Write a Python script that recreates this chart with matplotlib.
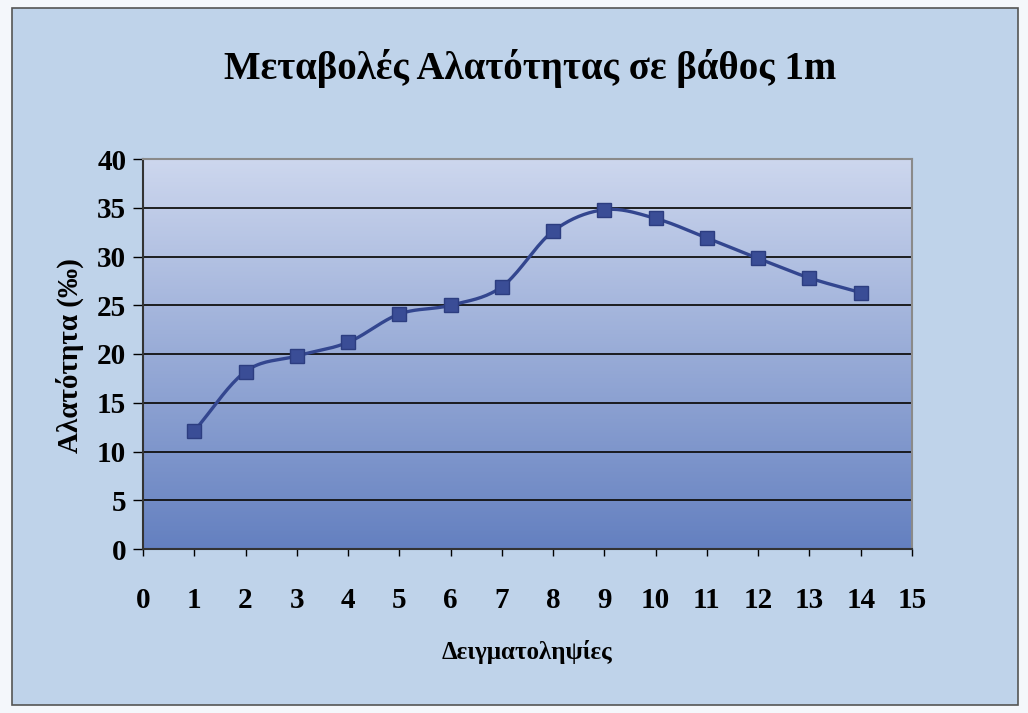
import numpy as np
import matplotlib.pyplot as plt
from matplotlib.colors import LinearSegmentedColormap
from matplotlib.patches import Rectangle

# data
samples = [1, 2, 3, 4, 5, 6, 7, 8, 9, 10, 11, 12, 13, 14]
salinity = [12.1, 18.2, 19.8, 21.2, 24.1, 25.0, 26.9, 32.6, 34.8, 33.9, 31.9, 29.8, 27.8, 26.3]
x_ticks = list(range(0, 16))
y_ticks = list(range(0, 41, 5))

title = 'Μεταβολές Αλατότητας σε βάθος 1m'
x_label = 'Δειγματοληψίες'
y_label = 'Αλατότητα (‰)'


def smooth(x, y, n=20):
    # catmull-rom curve through the points (like excel "smoothed line")
    x = np.asarray(x, float)
    y = np.asarray(y, float)
    px = np.concatenate([[2*x[0]-x[1]], x, [2*x[-1]-x[-2]]])
    py = np.concatenate([[2*y[0]-y[1]], y, [2*y[-1]-y[-2]]])
    xs, ys = [], []
    t = np.linspace(0, 1, n, endpoint=False)
    for i in range(1, len(px)-2):
        for p, out in ((px, xs), (py, ys)):
            p0, p1, p2, p3 = p[i-1], p[i], p[i+1], p[i+2]
            out.extend(0.5*(2*p1 + (-p0+p2)*t + (2*p0-5*p1+4*p2-p3)*t**2
                            + (-p0+3*p1-3*p2+p3)*t**3))
    xs.append(x[-1])
    ys.append(y[-1])
    return np.array(xs), np.array(ys)


plt.rcParams['font.family'] = ['Liberation Serif', 'DejaVu Serif']
plt.rcParams['font.weight'] = 'bold'

fig = plt.figure(figsize=(10.28, 7.13), dpi=100)
fig.patch.set_facecolor('#f4f7fb')
fig.patches.append(Rectangle((12/1028, 8/713), 1006/1028, 697/713,
                             transform=fig.transFigure, facecolor='#bfd3ea',
                             edgecolor='#555555', lw=1.2, zorder=-10))

ax = fig.add_axes([143/1028, 1-549/713, 769/1028, 390/713])

# gradient fill of plot area
grad = LinearSegmentedColormap.from_list('g', ['#6480c0', '#cdd7ee'])
ax.imshow(np.linspace(0, 1, 256).reshape(-1, 1), cmap=grad, aspect='auto',
          extent=[0, 15, 0, 40], origin='lower', zorder=0)

for yv in y_ticks[1:-1]:
    ax.axhline(yv, color='#111111', lw=1.3, zorder=1)

sx, sy = smooth(samples, salinity)
ax.plot(sx, sy, color='#33468f', lw=2.4, zorder=3)
ax.plot(samples, salinity, 's', color='#3a4d96', markersize=10.5,
        markeredgecolor='#2c3d80', zorder=4)

ax.set_xlim(0, 15)
ax.set_ylim(0, 40)
ax.set_xticks(x_ticks)
ax.set_yticks(y_ticks)
ax.tick_params(axis='x', direction='out', length=5, width=1, pad=22, labelsize=21)
ax.tick_params(axis='y', direction='out', length=7, width=1, pad=5, labelsize=21)
for s in ['top', 'right']:
    ax.spines[s].set_color('#8a8a8a')
    ax.spines[s].set_linewidth(1.5)
for s in ['left', 'bottom']:
    ax.spines[s].set_color('#333333')
    ax.spines[s].set_linewidth(1.5)

fig.text(530/1028, 1-68/713, title, ha='center', va='center', fontsize=28,
         fontweight='bold')
fig.text(527/1028, 1-652/713, x_label, ha='center', va='center', fontsize=18,
         fontweight='bold')
fig.text(70/1028, 1-356/713, y_label, ha='center', va='center', fontsize=21,
         fontweight='bold', rotation=90)

fig.savefig('out.png', dpi=100, facecolor=fig.get_facecolor())
